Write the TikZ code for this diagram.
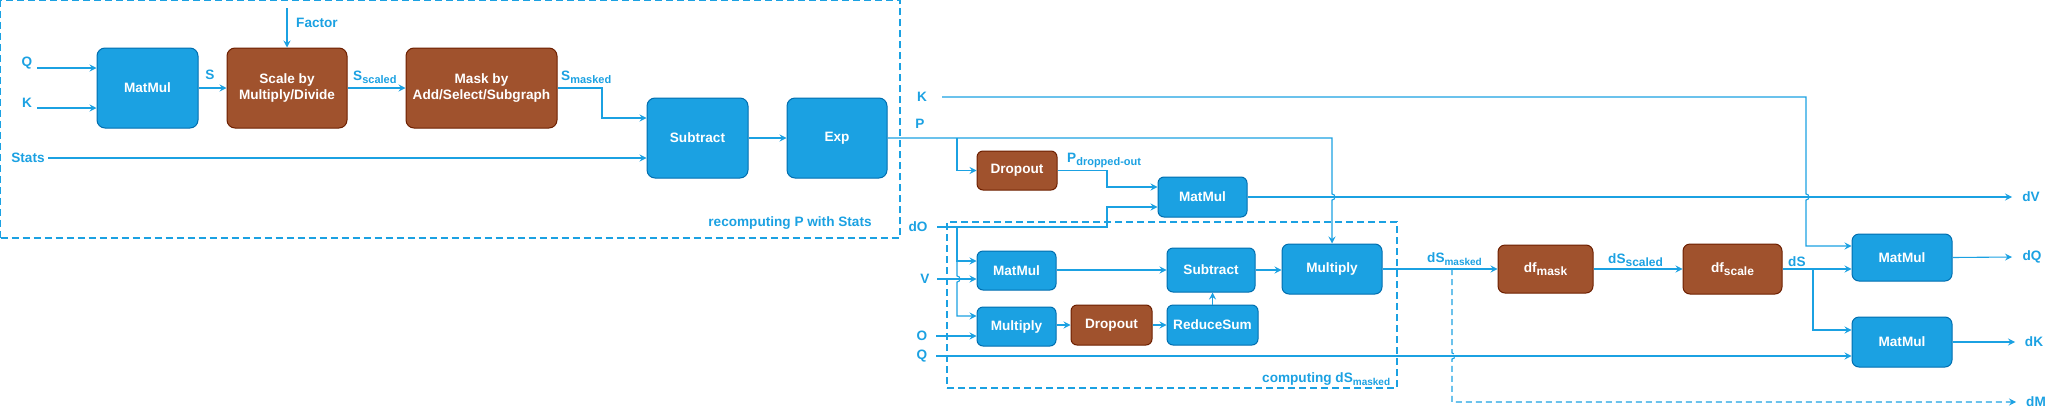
\documentclass[tikz,border=0pt]{standalone}
\usepackage{fontspec}
\setmainfont{Liberation Sans}
\usetikzlibrary{arrows.meta,calc}
\definecolor{cblue}{HTML}{1BA1E2}
\definecolor{cbluedk}{HTML}{006EAF}
\definecolor{cbrown}{HTML}{A0522D}
\definecolor{cbrowndk}{HTML}{6D1F00}
\newcommand\mysub[2][11]{\raisebox{-3pt}{\fontsize{#1}{#1}\selectfont #2}}
\begin{document}
\begin{tikzpicture}[x=1pt,y=-1pt,
  font=\fontsize{13.6}{16}\selectfont\bfseries,
  bbox/.style={draw=cbluedk, fill=cblue, rounded corners=8pt, text=white, line width=1pt, inner sep=0pt, align=center},
  brbox/.style={draw=cbrowndk, fill=cbrown, rounded corners=8pt, text=white, line width=1pt, inner sep=0pt, align=center},
  lbl/.style={text=cblue, inner sep=0pt},
  conn/.style={draw=cblue, line width=1.1pt},
  arr/.style={conn, -{Stealth[length=7pt,width=7pt,inset=2.5pt]}},
  grp/.style={draw=cblue, line width=1.3pt, dash pattern=on 7pt off 4pt, inner sep=0pt},
  jmp/.style={},
]
\useasboundingbox (0,0) rectangle (2058,418);

% groups
\node[grp, minimum width=899.3pt, minimum height=237.3pt] (g1) at (450.35,119.35) {};
\node[grp, minimum width=450pt, minimum height=166pt] (g2) at (1172,305) {};
\node[lbl] (g1lbl) at (790,223) {recomputing P with Stats};
\node[lbl, anchor=base west] (g2lbl) at (1262,382) {computing dS\mysub[10]{masked}};

% boxes
\node[bbox, minimum width=101pt, minimum height=80pt] (mm1) at (147.5,88) {MatMul};
\node[brbox, minimum width=120pt, minimum height=80pt] (scale) at (287,88) {Scale by\\Multiply/Divide};
\node[brbox, minimum width=151pt, minimum height=80pt] (mask) at (481.5,88) {Mask by\\Add/Select/Subgraph};
\node[bbox, minimum width=101pt, minimum height=80pt] (sub1) at (697.5,138) {Subtract};
\node[bbox, minimum width=100pt, minimum height=80pt] (exp) at (837,138) {Exp};
\node[brbox, rounded corners=6pt, minimum width=80pt, minimum height=39pt] (drop1) at (1017,170.5) {Dropout};
\node[bbox, rounded corners=6pt, minimum width=89pt, minimum height=40pt] (mm2) at (1202.5,197) {MatMul};
\node[bbox, rounded corners=6pt, minimum width=79pt, minimum height=39pt] (mm3) at (1016.5,270.5) {MatMul};
\node[bbox, rounded corners=6pt, minimum width=79pt, minimum height=39pt] (mul1) at (1016.5,326.5) {Multiply};
\node[brbox, rounded corners=6pt, minimum width=81pt, minimum height=40pt] (drop2) at (1111.5,325) {Dropout};
\node[bbox, rounded corners=6pt, minimum width=91pt, minimum height=40pt] (rsum) at (1212.5,325) {ReduceSum};
\node[bbox, rounded corners=6pt, minimum width=88pt, minimum height=44pt] (sub2) at (1211,270) {Subtract};
\node[bbox, rounded corners=7pt, minimum width=100pt, minimum height=50pt] (mul2) at (1332,269) {Multiply};
\node[brbox, rounded corners=7pt, minimum width=95pt, minimum height=48pt] (dfmask) at (1545.5,269) {df\mysub[12]{mask}};
\node[brbox, rounded corners=7pt, minimum width=99pt, minimum height=50pt] (dfscale) at (1732.5,269) {df\mysub[12]{scale}};
\node[bbox, rounded corners=7pt, minimum width=100pt, minimum height=47pt] (mmq) at (1902,257.5) {MatMul};
\node[bbox, rounded corners=7pt, minimum width=100pt, minimum height=50pt] (mmk) at (1902,342) {MatMul};

% labels
\node[lbl] (lq) at (27,63) {Q};
\node[lbl] (lk) at (27,103) {K};
\node[lbl] (lstats) at (28,158) {Stats};
\node[lbl] (lfactor) at (317,23) {Factor};
\node[lbl] (ls) at (210,75) {S};
\node[lbl, anchor=base west] (lss) at (353,80) {S\mysub{scaled}};
\node[lbl, anchor=base west] (lsm) at (561,80) {S\mysub{masked}};
\node[lbl] (lk2) at (922,97) {K};
\node[lbl] (lp) at (920,124) {P};
\node[lbl, anchor=base west] (lpd) at (1067,162) {P\mysub{dropped-out}};
\node[lbl] (ldo) at (918,227) {dO};
\node[lbl] (lv) at (925,279) {V};
\node[lbl] (lo) at (922,336) {O};
\node[lbl] (lq2) at (922,356) {Q};
\node[lbl, anchor=base west] (ldsm) at (1427,262) {dS\mysub[10]{masked}};
\node[lbl, anchor=base west] (ldss) at (1608,263) {dS\mysub[12]{scaled}};
\node[lbl, anchor=base west] (lds) at (1788,266) {dS};
\node[lbl] (ldv) at (2031,197) {dV};
\node[lbl] (ldq) at (2032,257) {dQ};
\node[lbl] (ldk) at (2034,342) {dK};
\node[lbl] (ldm) at (2036,402) {dM};

% free ends
\coordinate (qin) at (37,68);
\coordinate (kin) at (37,108);
\coordinate (statsin) at (48,158);
\coordinate (factorin) at (287,8);
\coordinate (kin2) at (942,97);
\coordinate (doin) at (937,227);
\coordinate (vin) at (937,279);
\coordinate (oin) at (936,336);
\coordinate (qin2) at (936,356);
\coordinate (dvend) at (2012,197);
\coordinate (dqend) at (2012,257);
\coordinate (dkend) at (2015,342);
\coordinate (dmend) at (2016,402);
\coordinate (pbr) at (957,138);
\coordinate (dobr) at (957,227);
\coordinate (dsmbr) at (1452,269);
\coordinate (dsbr) at (1813,269);

% connectors, first part
\draw[arr] (qin) -- (mm1.west |- qin);
\draw[arr] (kin) -- (mm1.west |- kin);
\draw[arr] (factorin) -- (scale.north);
\draw[arr] (mm1.east) -- (scale.west);
\draw[arr] (scale.east) -- (mask.west);
\draw[arr] (mask.east) -| (602,118) -- (sub1.west |- 602,118);
\draw[arr] (statsin) -- (sub1.west |- statsin);
\draw[arr] (sub1.east) -- (exp.west);

% P
\draw[arr] (exp.east) -| (1332,194) arc[start angle=90,end angle=-90,radius=3pt] -- (mul2.north);
\draw[arr] (pbr) |- (drop1.west);
\draw[arr] (drop1.east) -| (1107,187) -- (mm2.west |- 1107,187);
% dO
\draw[arr] (doin) -| (1107,207) -- (mm2.west |- 1107,207);
\draw[arr] (dobr) |- (mm3.west |- 0,261);
\draw[arr] (dobr) -- (957,276) arc[start angle=90,end angle=-90,radius=3pt] |- (mul1.west |- 0,316);
\draw[arr] (vin) -- (mm3.west |- vin);
\draw[arr] (oin) -- (mul1.west |- oin);
\draw[arr] (mm3.east |- sub2.west) -- (sub2.west);
\draw[arr] (mul1.east |- drop2.west) -- (drop2.west);
\draw[arr] (drop2.east) -- (rsum.west);
\draw[arr] (rsum.north) -- (sub2.south -| rsum.north);
\draw[arr] (sub2.east) -- (mul2.west |- sub2.east);
\draw[arr] (mm2.east) -- (dvend);

% right part
\draw[arr] (mul2.east) -- (dfmask.west);
\draw[arr] (dfmask.east) -- (dfscale.west);
\draw[arr] (dfscale.east) -- (mmq.west |- dfscale.east);
\draw[arr] (dsbr) |- (mmk.west |- 0,330);
\draw[arr] (kin2) -| (1806,194) arc[start angle=90,end angle=-90,radius=3pt] |- (mmq.west |- 0,246);
\draw[arr] (qin2) -- (mmk.west |- qin2);
\draw[arr, dash pattern=on 6pt off 4pt] (dsmbr) -- (1452,353) arc[start angle=90,end angle=-90,radius=3pt] |- (dmend);
\draw[arr] (mmq.east) -- (dqend);
\draw[arr] (mmk.east) -- (dkend);
\end{tikzpicture}
\end{document}
